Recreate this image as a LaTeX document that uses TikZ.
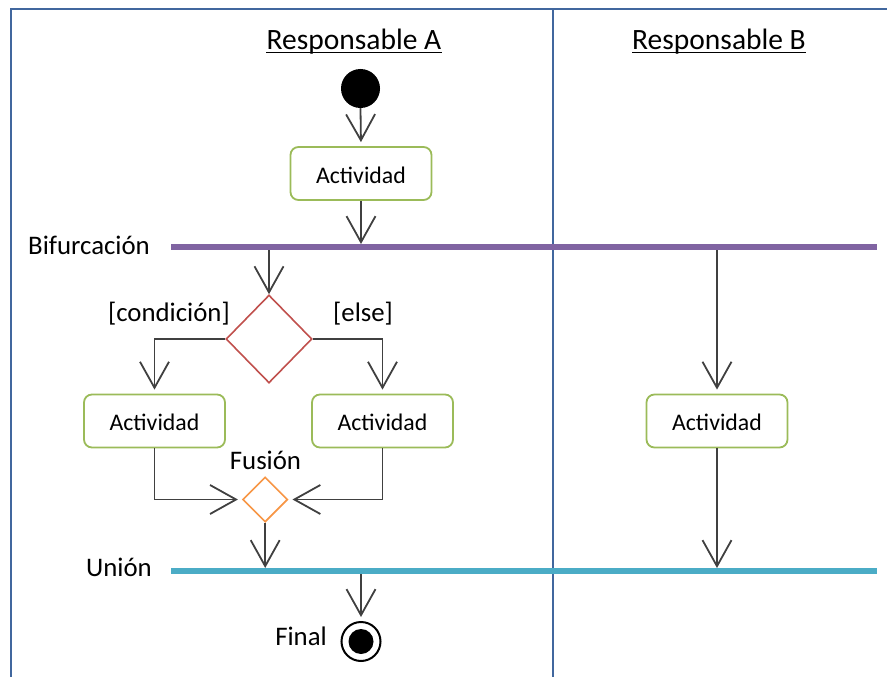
\documentclass[tikz,border=0pt]{standalone}
\usepackage{fontspec}
\setmainfont{Carlito}
\usetikzlibrary{arrows.meta,shapes.geometric,calc}
\definecolor{laneblue}{HTML}{41679E}
\definecolor{forkpurple}{HTML}{8064A2}
\definecolor{jointeal}{HTML}{4BACC6}
\definecolor{actgreen}{HTML}{9BBB59}
\definecolor{decred}{HTML}{C0504D}
\definecolor{mergeorange}{HTML}{F79646}
\definecolor{flowgray}{HTML}{404040}
\begin{document}
\begin{tikzpicture}[x=1pt,y=-1pt,
  lane/.style={draw=laneblue, line width=2pt},
  flow/.style={draw=flowgray, line width=1.8pt, -{Straight Barb[length=26pt,width=29pt]}},
  gap/.style={shorten >=4pt},
  act/.style={draw=actgreen, line width=1.8pt, rounded corners=8pt, minimum width=141pt, minimum height=53pt, inner sep=0pt, font=\fontsize{23.8}{28}\selectfont, text height=19.4pt, text depth=0pt},
  bar/.style={rectangle, inner sep=0pt, outer sep=0pt, minimum width=706pt, minimum height=6pt},
  lab/.style={inner sep=0pt, font=\fontsize{26.8}{32}\selectfont},
  head/.style={inner sep=0pt, font=\fontsize{29.5}{35}\selectfont},
  ctrl/.style={diamond, inner sep=0pt, line width=1.6pt}
]
\useasboundingbox (0,0) rectangle (887,677);
% swimlane frame
\draw[lane] (11,677) -- (11,9) -- (887,9);
\draw[lane] (552.5,9) -- (552.5,677);
% headings
\node[head, anchor=base] (hA) at (354,50) {Responsable A};
\node[head, anchor=base] (hB) at (719,50) {Responsable B};
\draw[line width=1.3pt] ($(hA.base west)+(0,2.3)$) -- ($(hA.base east)+(0,2.3)$);
\draw[line width=1.3pt] ($(hB.base west)+(0,2.3)$) -- ($(hB.base east)+(0,2.3)$);
% nodes
\node[circle, fill=black, minimum size=39pt, inner sep=0pt] (start) at (360.5,88.5) {};
\node[act] (a1) at (361,173.5) {Actividad};
\node[bar, fill=forkpurple] (fork) at (523.7,247) {};
\node[ctrl, draw=decred, minimum width=86pt, minimum height=88pt] (dec) at (269,339) {};
\node[act] (b1) at (154.5,421) {Actividad};
\node[act] (b2) at (382.5,421) {Actividad};
\node[act] (b3) at (717,421) {Actividad};
\node[ctrl, draw=mergeorange, minimum width=45pt, minimum height=45pt] (merge) at (265.2,499.5) {};
\node[bar, fill=jointeal] (join) at (523.7,571) {};
\node[circle, draw=black, line width=2pt, minimum size=39pt, inner sep=0pt] (fin) at (361,641.5) {};
\node[circle, fill=black, minimum size=25pt, inner sep=0pt] (fincore) at (fin.center) {};
% labels
\node[lab, anchor=base east] (lfork) at (150,254.5) {Bifurcación};
\node[lab, anchor=base east] (lcond) at (230,321) {[condición]};
\node[lab, anchor=base west] (lelse) at (333,321) {[else]};
\node[lab, anchor=base] (lmerge) at (265.5,469.3) {Fusión};
\node[lab, anchor=base east] (ljoin) at (152,576.7) {Unión};
\node[lab, anchor=base east] (lfin) at (327,645) {Final};
% connectors
\draw[flow, gap] (start.south) -- (a1.north);
\draw[flow] (a1.south) -- (a1.south |- fork.north);
\draw[flow] (dec.north |- fork.south) -- (dec.north);
\draw[flow, gap] (dec.west) -| (b1.north);
\draw[flow, gap] (dec.east) -| (b2.north);
\draw[flow, gap] (b1.south) |- (merge.west);
\draw[flow, gap] (b2.south) |- (merge.east);
\draw[flow] (merge.south) -- (merge.south |- join.north);
\draw[flow, gap] (b3.north |- fork.south) -- (b3.north);
\draw[flow] (b3.south) -- (b3.south |- join.north);
\draw[flow, gap] (fin.north |- join.south) -- (fin.north);
\end{tikzpicture}
\end{document}
